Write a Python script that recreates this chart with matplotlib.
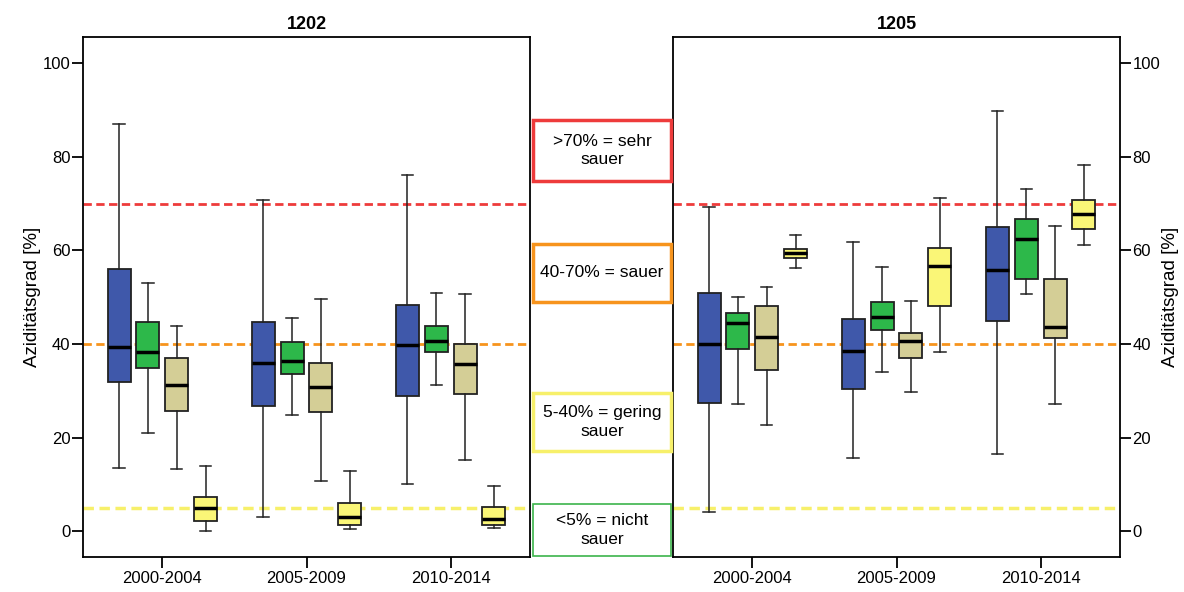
import numpy as np
import matplotlib
matplotlib.use("Agg")
import matplotlib.pyplot as plt
from matplotlib.patches import Rectangle

plt.rcParams['font.family'] = ['Liberation Sans', 'DejaVu Sans']

periods = ['2000-2004', '2005-2009', '2010-2014']
box_colors = ['#3F58AA', '#2DB84A', '#D4CE96', '#FAF677']

# each row = one period, each column = one of the 4 series
s1202_lo  = [[13.5, 20.9, 13.3, 0.1], [3.0, 24.9, 10.8, 0.5], [10.2, 31.3, 15.2, 0.8]]
s1202_q1  = [[31.8, 34.8, 25.6, 2.1], [26.8, 33.5, 25.4, 1.4], [28.8, 38.3, 29.4, 1.4]]
s1202_med = [[39.4, 38.3, 31.2, 5.0], [36.0, 36.3, 30.8, 3.1], [39.7, 40.7, 35.7, 2.6]]
s1202_q3  = [[56.0, 44.8, 37.0, 7.3], [44.7, 40.4, 36.0, 6.1], [48.4, 43.8, 40.1, 5.1]]
s1202_hi  = [[87.0, 53.1, 43.9, 14.0], [70.8, 45.5, 49.6, 12.8], [76.1, 50.9, 50.6, 9.7]]

s1205_lo  = [[4.1, 27.2, 22.6, 56.2], [15.6, 34.0, 29.8, 38.2], [16.5, 50.6, 27.1, 61.1]]
s1205_q1  = [[27.4, 38.9, 34.5, 58.3], [30.5, 42.9, 37.0, 48.2], [45.0, 53.8, 41.2, 64.5]]
s1205_med = [[40.0, 44.4, 41.6, 59.5], [38.6, 45.7, 40.7, 56.6], [55.9, 62.5, 43.7, 67.8]]
s1205_q3  = [[50.8, 46.7, 48.1, 60.4], [45.4, 48.9, 42.3, 60.6], [64.9, 66.7, 53.9, 70.8]]
s1205_hi  = [[69.3, 50.0, 52.2, 63.4], [61.7, 56.5, 49.1, 71.1], [89.7, 73.1, 65.3, 78.2]]

thresholds = [70, 40, 5]
threshold_colors = ['#EE3B3B', '#F7941D', '#F7F06A']

class_labels = ['>70% = sehr\nsauer', '40-70% = sauer', '5-40% = gering\nsauer', '<5% = nicht\nsauer']
class_colors = ['#EE3B3B', '#F7941D', '#F7F06A', '#3CB44B']

W, H = 1184, 592
fig = plt.figure(figsize=(W / 100, H / 100), dpi=100)


def px_rect(x0, y0, x1, y1):
    return [x0 / W, 1 - y1 / H, (x1 - x0) / W, (y1 - y0) / H]


def draw_panel(ax, lo, q1, med, q3, hi, title, right=False):
    offsets = [-0.3, -0.1, 0.1, 0.3]
    for t, c in zip(thresholds, threshold_colors):
        lw = 2.5 if t == 5 else 2
        ax.axhline(t, color=c, lw=lw, ls=(0, (3, 1.6)), zorder=1)
    for i in range(len(periods)):
        for j in range(4):
            st = dict(whislo=lo[i][j], q1=q1[i][j], med=med[i][j], q3=q3[i][j],
                      whishi=hi[i][j], fliers=[])
            ax.bxp([st], positions=[i + offsets[j]], widths=0.16, patch_artist=True,
                   showfliers=False, capwidths=[0.08],
                   boxprops=dict(facecolor=box_colors[j], edgecolor='#222222', lw=1.3),
                   medianprops=dict(color='black', lw=2.5),
                   whiskerprops=dict(color='#222222', lw=1.1),
                   capprops=dict(color='#222222', lw=1.1), manage_ticks=False, zorder=3)
    ax.set_xlim(-0.55, 2.55)
    ax.set_ylim(-5.5, 105.6)
    ax.set_xticks(range(len(periods)))
    ax.set_xticklabels(periods, fontsize=12)
    ax.set_yticks([0, 20, 40, 60, 80, 100])
    ax.tick_params(axis='y', labelsize=12, length=8, width=1.3, pad=1)
    ax.tick_params(axis='x', length=8, width=1.3, pad=2)
    ax.set_title(title, fontsize=13, fontweight='bold', pad=6)
    for s in ax.spines.values():
        s.set_linewidth(1.3)
    if right:
        ax.yaxis.tick_right()
        ax.yaxis.set_label_position('right')
    ax.set_ylabel('Aziditätsgrad [%]', fontsize=13.5, labelpad=1)


ax1 = fig.add_axes(px_rect(83, 37, 530, 557))
ax2 = fig.add_axes(px_rect(673, 37, 1120, 557))
draw_panel(ax1, s1202_lo, s1202_q1, s1202_med, s1202_q3, s1202_hi, '1202')
draw_panel(ax2, s1205_lo, s1205_q1, s1205_med, s1205_q3, s1205_hi, '1205', right=True)

# class boxes between the panels
box_rows = [(120, 181), (244, 302), (393, 451), (504, 556)]
for (y0, y1), lab, c in zip(box_rows, class_labels, class_colors):
    x0, y0f, w, h = px_rect(533, y0, 671, y1)
    lw = 1.2 if c == '#3CB44B' else 2.5
    fig.add_artist(Rectangle((x0, y0f), w, h, transform=fig.transFigure,
                             facecolor='white', edgecolor=c, lw=lw))
    fig.text(x0 + w / 2, y0f + h / 2, lab, ha='center', va='center',
             fontsize=12.5, linespacing=1.3)

fig.savefig('out.png', dpi=100)
